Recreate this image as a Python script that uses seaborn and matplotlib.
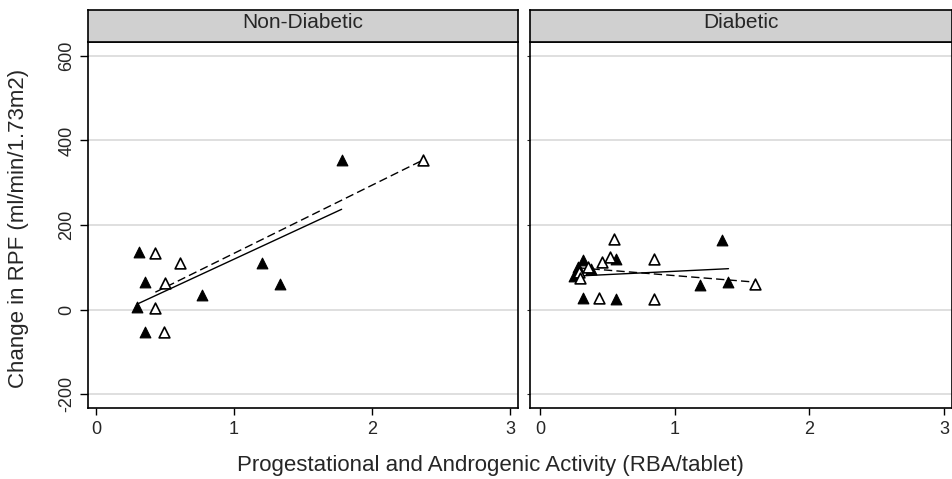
import matplotlib
matplotlib.use("Agg")
import matplotlib.pyplot as plt
import seaborn as sns
import pandas as pd

sns.set_theme(style="white")
plt.rcParams['font.family'] = ['Liberation Sans', 'DejaVu Sans']
plt.rcParams['axes.unicode_minus'] = False

# Non-Diabetic panel: filled = one activity measure, open = the other
nd_filled_x = [0.31, 0.355, 0.30, 0.355, 0.766, 1.20, 1.33, 1.78]
nd_filled_y = [135, 65, 5, -52, 34, 110, 60, 353]
nd_open_x = [2.37, 0.43, 0.61, 0.50, 0.43, 0.49]
nd_open_y = [353, 133, 109, 63, 4, -53]

# Diabetic panel
d_filled_x = [0.25, 0.28, 0.32, 0.38, 0.565, 0.317, 0.565, 1.19, 1.355, 1.40]
d_filled_y = [80, 100, 118, 95, 119, 28, 25, 57, 165, 65]
d_open_x = [0.29, 0.36, 0.46, 0.52, 0.55, 0.85, 0.44, 0.85, 1.60, 0.30]
d_open_y = [88, 100, 113, 125, 168, 119, 28, 24, 60, 75]

panels = ['Non-Diabetic', 'Diabetic']
yticks = [-200, 0, 200, 400, 600]
xticks = [0, 1, 2, 3]

W, H = 952, 479
fig = plt.figure(figsize=(W / 100, H / 100), dpi=100)


def box(l, r, t, b):
    return [l / W, 1 - b / H, (r - l) / W, (b - t) / H]


panel_data = [
    (nd_filled_x, nd_filled_y, nd_open_x, nd_open_y),
    (d_filled_x, d_filled_y, d_open_x, d_open_y),
]
edges = [(88, 518), (530, 952)]
xlims = [(-0.058, 3.058), (-0.074, 3.06)]

for i, (title, (fx, fy, ox, oy)) in enumerate(zip(panels, panel_data)):
    l, r = edges[i]
    ax = fig.add_axes(box(l, r, 42, 408))
    filled = pd.DataFrame({'x': fx, 'y': fy})
    opened = pd.DataFrame({'x': ox, 'y': oy})

    for yv in yticks:
        ax.axhline(yv, color='#dcdcdc', lw=1.3, zorder=0)

    sns.regplot(data=filled, x='x', y='y', ax=ax, scatter=False, ci=None,
                line_kws={'color': 'black', 'lw': 1.0})
    sns.regplot(data=opened, x='x', y='y', ax=ax, scatter=False, ci=None,
                line_kws={'color': 'black', 'lw': 1.0, 'dashes': (6, 3)})
    sns.scatterplot(data=filled, x='x', y='y', ax=ax, marker='^', s=60,
                    color='black', edgecolor='black', linewidth=0.8, zorder=3)
    sns.scatterplot(data=opened, x='x', y='y', ax=ax, marker='^', s=60,
                    facecolor='white', edgecolor='black', linewidth=1.2, zorder=3)

    ax.set_xlim(*xlims[i])
    ax.set_ylim(-233, 633)
    ax.set_xticks(xticks)
    ax.set_yticks(yticks)
    ax.set_xlabel('')
    ax.set_ylabel('')
    for sp in ax.spines.values():
        sp.set_color('black')
        sp.set_linewidth(1.2)
    ax.tick_params(axis='x', direction='out', length=5, width=1, color='black',
                   bottom=True, labelsize=13, pad=4)
    if i == 0:
        ax.tick_params(axis='y', direction='out', length=6, width=1, color='black',
                       left=True, labelsize=13, labelrotation=90, pad=3)
        for lab in ax.get_yticklabels():
            lab.set_va('center')
    else:
        ax.tick_params(axis='y', left=True, length=2, width=0.8, labelleft=False)

    sax = fig.add_axes(box(l, r, 10, 42))
    sax.set_facecolor('#d0d0d0')
    sax.set_xticks([])
    sax.set_yticks([])
    for sp in sax.spines.values():
        sp.set_color('black')
        sp.set_linewidth(1.2)
    sax.text(0.5, 0.6, title, ha='center', va='center', fontsize=15,
             transform=sax.transAxes)

fig.text(490 / W, 1 - 466 / H, 'Progestational and Androgenic Activity (RBA/tablet)',
         ha='center', va='center', fontsize=16)
fig.text(19 / W, 1 - 228 / H, 'Change in RPF (ml/min/1.73m2)', rotation=90,
         ha='center', va='center', fontsize=16)

fig.savefig('out.png', dpi=100, facecolor='white')
